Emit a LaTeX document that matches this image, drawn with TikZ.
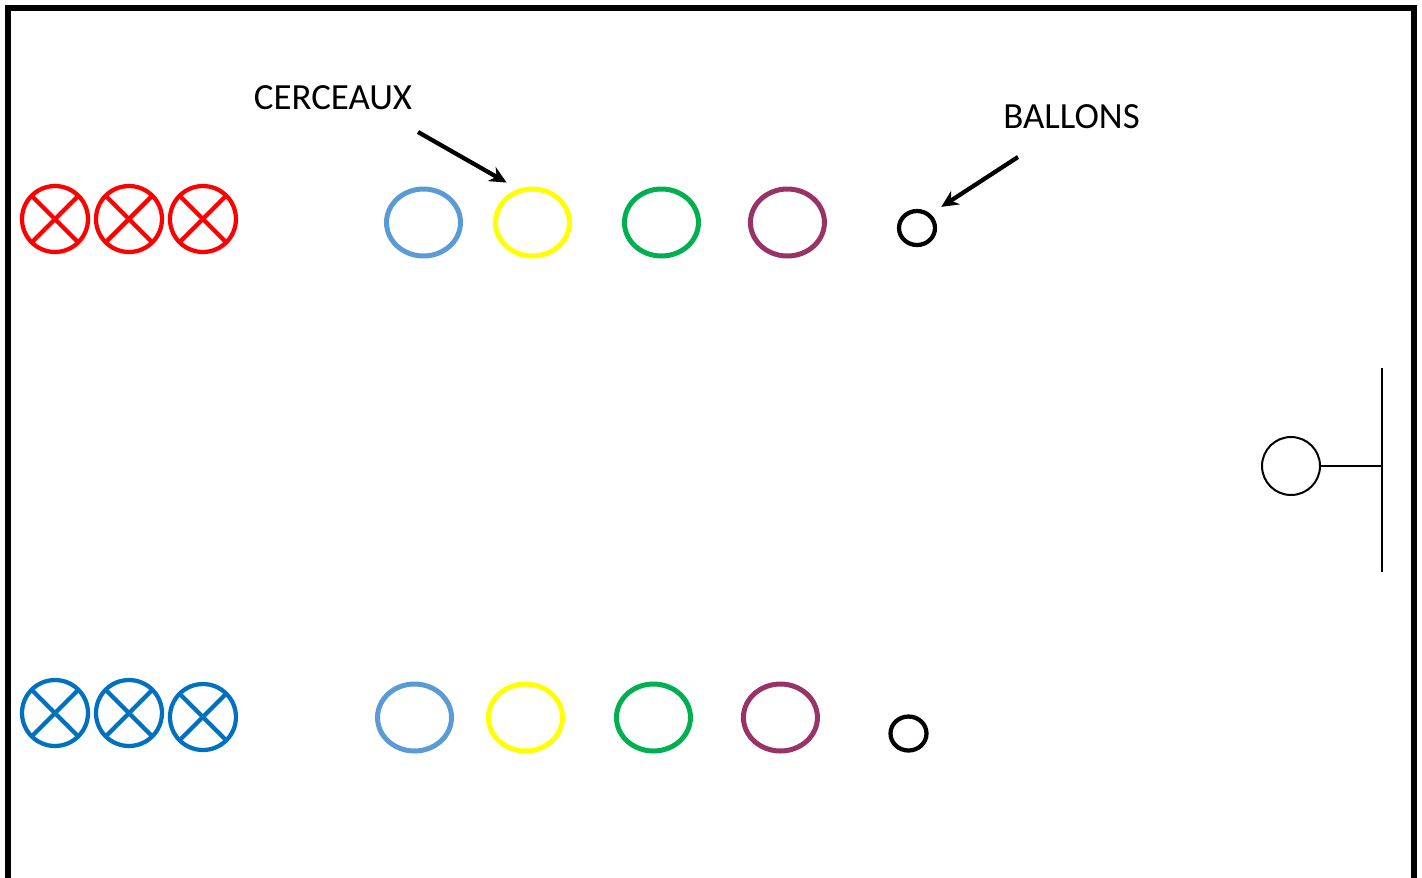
\documentclass[tikz,border=0pt]{standalone}
\usepackage{fontspec}
\setmainfont{Carlito}
\usepackage{tikz}
\usetikzlibrary{arrows.meta, positioning, shapes.geometric}

\definecolor{teamred}{HTML}{FF0000}
\definecolor{teamblue}{HTML}{0070C0}
\definecolor{hoopblue}{HTML}{5B9BD5}
\definecolor{hoopyellow}{HTML}{FFFF00}
\definecolor{hoopgreen}{HTML}{00B050}
\definecolor{hooppurple}{HTML}{993366}

\begin{document}
\begin{tikzpicture}[
x=0.02cm, y=-0.02cm,
player/.style={circle, draw=#1, line width=0.085cm, minimum size=1.32cm,
inner sep=0pt, outer sep=0pt},
hoop/.style={ellipse, draw=#1, line width=0.1cm, minimum width=1.48cm,
minimum height=1.34cm, inner sep=0pt, outer sep=0pt},
ball/.style={ellipse, draw, line width=0.085cm, minimum width=0.72cm,
minimum height=0.68cm, inner sep=0pt, outer sep=0pt},
lbl/.style={font=\fontsize{21}{25}\selectfont, inner sep=0pt},
arr/.style={-{Stealth[length=0.34cm, width=0.32cm]}, line width=0.085cm},
thinline/.style={line width=0.04cm}
]
\useasboundingbox (0,0) rectangle (1422,877);
\draw[line width=0.12cm] (8,900) -- (8,8) -- (1414,8) -- (1414,900);

% players
\node[player=teamred] (r1) at (55,219) {};
\node[player=teamred, right=0.16cm of r1] (r2) {};
\node[player=teamred, right=0.16cm of r2] (r3) {};
\node[player=teamblue] (b1) at (55,713) {};
\node[player=teamblue, right=0.16cm of b1] (b2) {};
\node[player=teamblue, right=0.16cm of b2, yshift=-0.08cm] (b3) {};
\foreach \p/\c in {r1/teamred, r2/teamred, r3/teamred,
b1/teamblue, b2/teamblue, b3/teamblue}
\draw[\c, line width=0.085cm] (\p.45) -- (\p.225) (\p.135) -- (\p.315);

% hoops
\node[hoop=hoopblue] (hb1) at (423.5,222.5) {};
\node[hoop=hoopyellow, right=0.7cm of hb1] (hy1) {};
\node[hoop=hoopgreen, right=1.1cm of hy1] (hg1) {};
\node[hoop=hooppurple, right=1.04cm of hg1] (hp1) {};
\node[hoop=hoopblue] (hb2) at (414.5,717.5) {};
\node[hoop=hoopyellow, right=0.74cm of hb2] (hy2) {};
\node[hoop=hoopgreen, right=1.08cm of hy2] (hg2) {};
\node[hoop=hooppurple, right=1.06cm of hg2] (hp2) {};

% balls
\node[ball] (bt1) at (917,228) {};
\node[ball] (bt2) at (908.5,733.5) {};

% basket
\node[circle, draw, thinline, minimum size=1.16cm, inner sep=0pt,
outer sep=0pt] (pan) at (1291,466) {};
\coordinate (board) at (1382,466);
\coordinate (boardtop) at (1382,368);
\coordinate (boardbot) at (1382,572);
\draw[thinline] (pan) -- (board);
\draw[thinline] (boardtop) -- (boardbot);

% labels
\node[lbl] (cerc) at (333,97.5) {CERCEAUX};
\node[lbl] (ballons) at (1071.5,117) {BALLONS};
\coordinate (cerc-from) at (418,132);
\coordinate (ballons-from) at (1018,157);
\draw[arr, shorten >=0.33cm] (cerc-from) -- (hy1.110);
\draw[arr, shorten >=0.3cm] (ballons-from) -- (bt1.48);
\end{tikzpicture}
\end{document}
